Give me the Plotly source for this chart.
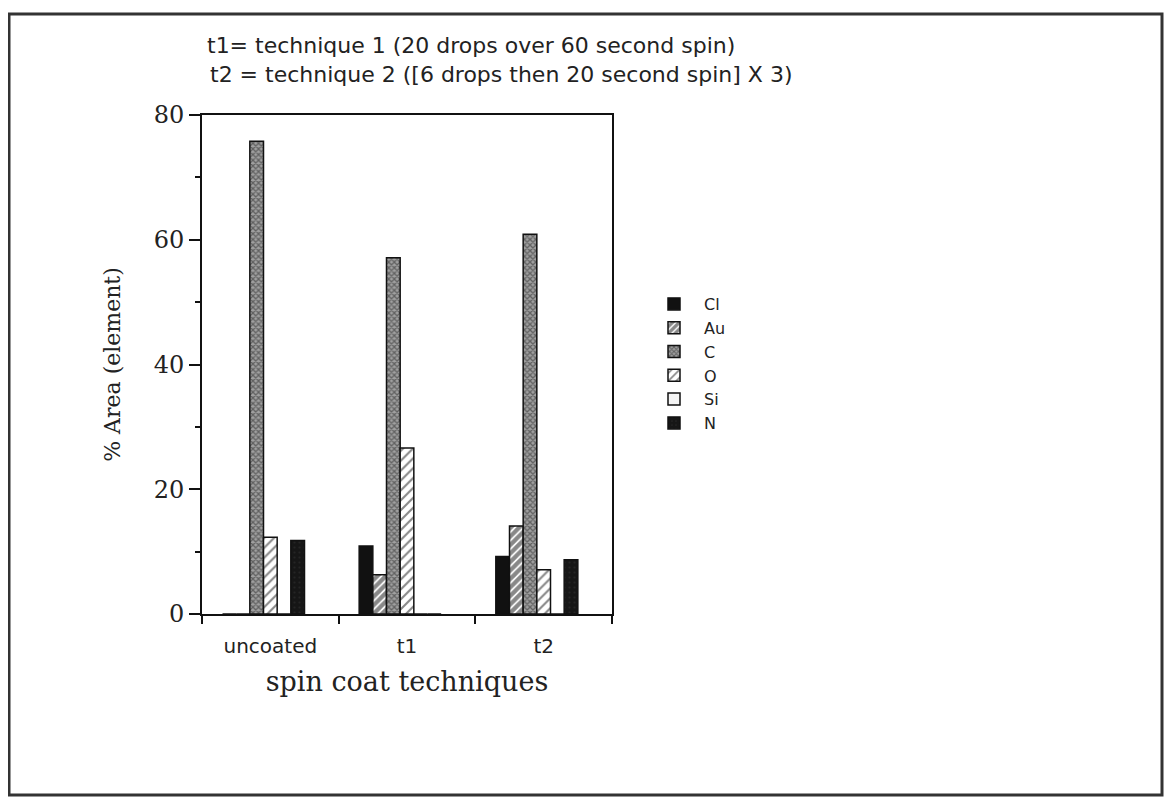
import plotly.graph_objects as go

categories = ["uncoated", "t1", "t2"]
elements = ["Cl", "Au", "C", "O", "Si", "N"]
cl_vals = [0, 10.9, 9.2]
au_vals = [0, 6.3, 14.1]
c_vals = [75.8, 57.1, 60.9]
o_vals = [12.3, 26.6, 7.1]
si_vals = [0, 0, 0]
n_vals = [11.8, 0, 8.7]
series = [cl_vals, au_vals, c_vals, o_vals, si_vals, n_vals]
y_ticks = [0, 20, 40, 60, 80]

patterns = [
    dict(color="#111111", pattern=dict(shape="")),
    dict(color="white", pattern=dict(shape="/", fgcolor="#111111", bgcolor="white", size=6, solidity=0.7)),
    dict(color="#555555", pattern=dict(shape="x", fgcolor="#222222", bgcolor="#a0a0a0", size=4, solidity=0.55)),
    dict(color="white", pattern=dict(shape="/", fgcolor="#111111", bgcolor="white", size=7, solidity=0.3)),
    dict(color="#f4f4f4", pattern=dict(shape="")),
    dict(color="#161616", pattern=dict(shape=".", fgcolor="#333333", bgcolor="#161616", size=5, solidity=0.15)),
]

BAR_W = 0.1
GROUP_START = -0.35

fig = go.Figure()
for i, (name, vals) in enumerate(zip(elements, series)):
    st = patterns[i]
    fig.add_trace(go.Bar(
        x=categories, y=vals, name=name,
        width=BAR_W, offset=GROUP_START + i * BAR_W,
        marker=dict(color=st["color"], pattern=st["pattern"],
                    line=dict(color="#111111", width=1.5)),
    ))

# page body margin offset (figure starts 8px into the window)
OFF = 8
L, T = 202, 115          # target plot-area position in the window
PW, PH = 410, 499
FW, FH = 1173 - OFF, 801 - OFF

def px(x):
    return (x - L) / PW

def py(y):
    return (T + PH - y) / PH

fig.update_layout(
    width=FW, height=FH,
    margin=dict(l=L - OFF, r=FW - (L - OFF) - PW, t=T - OFF, b=FH - (T - OFF) - PH, pad=0),
    paper_bgcolor="white", plot_bgcolor="white",
    barmode="group",
    showlegend=True,
    legend=dict(x=px(644), y=py(287), xanchor="left", yanchor="top",
                font=dict(family="DejaVu Sans", size=16, color="#222"),
                itemwidth=50,
                bgcolor="rgba(0,0,0,0)", tracegroupgap=0),
    xaxis=dict(
        type="category", range=[-0.5, 2.5], tickson="boundaries",
        showline=True, linecolor="#111", linewidth=2, mirror=True,
        ticks="outside", ticklen=8, tickwidth=2, tickcolor="#111",
        showgrid=False, zeroline=False,
        tickfont=dict(family="DejaVu Sans", size=20, color="#222"),
        ticklabelstandoff=13,
        title=dict(text="spin coat techniques", standoff=15,
                   font=dict(family="DejaVu Serif", size=27, color="#222")),
    ),
    yaxis=dict(
        range=[0, 80], tickvals=y_ticks,
        showline=True, linecolor="#111", linewidth=2, mirror=True,
        ticks="outside", ticklen=11, tickwidth=2, tickcolor="#111",
        minor=dict(dtick=10, ticks="outside", ticklen=5, tickwidth=2, tickcolor="#111"),
        showgrid=False, zeroline=False,
        tickfont=dict(family="DejaVu Serif", size=24, color="#222"),
        title=dict(text="% Area (element)", standoff=27,
                   font=dict(family="DejaVu Serif", size=22, color="#222")),
    ),
    annotations=[
        dict(text="t1= technique 1 (20 drops over 60 second spin)", xref="paper", yref="paper",
             x=px(205), y=py(45), xanchor="left", yanchor="middle", showarrow=False,
             font=dict(family="DejaVu Sans", size=22, color="#222")),
        dict(text="t2 = technique 2 ([6 drops then 20 second spin] X 3)", xref="paper", yref="paper",
             x=px(208), y=py(75), xanchor="left", yanchor="middle", showarrow=False,
             font=dict(family="DejaVu Sans", size=22, color="#222")),
    ],
    shapes=[
        dict(type="rect", xref="paper", yref="paper",
             x0=px(9), x1=px(1162), y0=py(795), y1=py(14),
             line=dict(color="#333", width=3), fillcolor="rgba(0,0,0,0)"),
    ],
)

fig.write_html("out.html")
